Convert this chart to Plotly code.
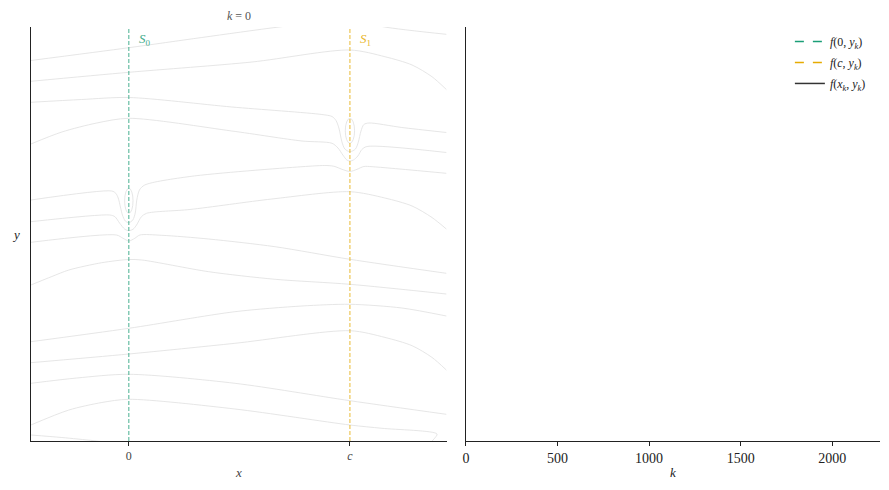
import plotly.graph_objects as go

# ---------------- data ----------------
C = 1.0  # position of the second saddle "c" (x in units of c)

# contour lines of f(x, y) at k = 0 (x in units of c, y in arbitrary units)
A_x = [-0.443, 0.0, 0.330, 0.679, 1.0, 1.149, 1.436]
A_y = [380.5, 393.3, 403.5, 414.0, 422.0, 414.3, 406.7]

B_x = [-0.443, 0.0, 0.557, 1.0, 1.158, 1.281, 1.371, 1.436]
B_y = [359.7, 368.7, 379.0, 391.0, 384.3, 376.0, 364.3, 351.5]

C_x = [-0.443, -0.213, 0.0, 0.466, 0.873, 0.919, 0.937, 0.950, 0.964, 0.977,
       1.0, 1.025, 1.038, 1.050, 1.063, 1.086, 1.235, 1.436]
C_y = [338.7, 341.5, 343.5, 334.0, 326.5, 324.5, 320.5, 313.0, 299.0, 292.0,
       289.3, 292.0, 299.0, 310.0, 316.5, 318.0, 313.5, 308.5]

D_x = [-0.443, -0.303, -0.145, 0.0, 0.466, 0.783, 0.919, 0.946, 0.968, 0.986,
       1.0, 1.016, 1.036, 1.054, 1.077, 1.436]
D_y = [297.0, 309.0, 318.0, 322.7, 310.0, 300.0, 297.7, 293.0, 286.0, 281.0,
       280.0, 281.0, 285.0, 291.5, 294.5, 288.5]

E_x = [-0.443, -0.077, -0.059, -0.048, -0.038, -0.029, -0.016, 0.0, 0.018,
       0.029, 0.036, 0.048, 0.072, 0.276, 0.783, 0.896, 0.932, 0.964, 1.0,
       1.032, 1.063, 1.100, 1.436]
E_y = [241.0, 250.0, 247.7, 243.0, 234.0, 226.0, 220.0, 218.3, 221.0,
       228.0, 241.0, 251.0, 256.0, 264.5, 274.3, 275.5, 274.5, 271.7, 269.5,
       271.7, 274.5, 274.3, 267.7]

F_x = [-0.443, -0.086, -0.063, -0.041, -0.018, 0.0, 0.019, 0.035, 0.057,
       0.080, 0.276, 0.647, 1.0, 1.158, 1.281, 1.371, 1.436]
F_y = [219.3, 226.0, 224.3, 217.7, 211.7, 210.3, 211.7, 216.0, 224.3,
       227.7, 231.5, 242.0, 249.3, 243.0, 235.0, 223.5, 212.0]

G_x = [-0.443, -0.056, -0.026, 0.0, 0.027, 0.050, 0.149, 0.361, 0.661, 1.0, 1.436]
G_y = [198.7, 206.0, 202.7, 200.0, 202.7, 206.0, 205.7, 202.0, 194.3, 181.7, 167.7]

H_x = [-0.443, -0.348, -0.271, -0.122, 0.0, 0.059, 0.361, 0.662, 1.0, 1.436]
H_y = [156.0, 164.5, 171.0, 178.3, 181.5, 181.0, 169.3, 161.7, 156.7, 147.0]

I_x = [-0.443, 0.0, 0.480, 0.783, 1.0, 1.235, 1.436]
I_y = [99.3, 112.7, 129.3, 135.0, 136.7, 133.0, 125.0]

J_x = [-0.443, 0.0, 0.480, 1.0, 1.158, 1.281, 1.371, 1.436]
J_y = [78.3, 87.0, 97.7, 110.3, 103.6, 95.3, 83.6, 71.0]

K_x = [-0.443, -0.235, 0.0, 0.480, 1.0, 1.436]
K_y = [57.7, 63.0, 66.7, 57.7, 40.3, 26.7]

L_x = [-0.443, -0.271, -0.122, 0.0, 0.480, 1.0, 1.145, 1.394, 1.380, 1.360]
L_y = [16.0, 31.0, 38.5, 41.7, 32.0, 16.0, 12.7, 7.0, 2.0, -2.5]

M_x = [-0.443, -0.303, -0.158, -0.032]
M_y = [6.0, 3.5, 0.3, -3.0]

CONTOURS_X = [A_x, B_x, C_x, D_x, E_x, F_x, G_x, H_x, I_x, J_x, K_x, L_x, M_x]
CONTOURS_Y = [A_y, B_y, C_y, D_y, E_y, F_y, G_y, H_y, I_y, J_y, K_y, L_y, M_y]

# small closed contours (wells) near the two saddles
WELL_X = [0.0, C]
WELL_HALF_W = [0.019, 0.021]
WELL_Y_LO = [227.7, 297.7]
WELL_Y_HI = [252.7, 322.7]

# separatrices
SEP_X = [0.0, C]
SEP_LABELS = ["<i>S</i><sub>0</sub>", "<i>S</i><sub>1</sub>"]
SEP_COLORS = ["#1b9e77", "#e6ab02"]

# left axis ranges / ticks
X_RANGE = [-0.443, 1.439]
Y_RANGE = [0.0, 414.0]
X_TICKVALS = [0.0, C]
X_TICKTEXT = ["0", "<i>c</i>"]

# right panel
K_RANGE = [0, 2261]
K_TICKS = [0, 500, 1000, 1500, 2000]
LEGEND_NAMES = ["<i>f</i>(0, <i>y<sub>k</sub></i>)",
                "<i>f</i>(<i>c</i>, <i>y<sub>k</sub></i>)",
                "<i>f</i>(<i>x<sub>k</sub></i>, <i>y<sub>k</sub></i>)"]
LEGEND_COLORS = ["#1b9e77", "#e6ab02", "#333333"]
LEGEND_DASH = ["dash", "dash", "solid"]

SERIF = "Liberation Serif, DejaVu Serif, serif"

fig = go.Figure()

for xs, ys in zip(CONTOURS_X, CONTOURS_Y):
    fig.add_trace(go.Scatter(x=xs, y=ys, mode="lines",
                             line=dict(color="#e0e0e0", width=0.8, shape="spline", smoothing=0.8),
                             showlegend=False, hoverinfo="skip", xaxis="x", yaxis="y"))

# wells as ellipses
for wx, hw, lo, hi in zip(WELL_X, WELL_HALF_W, WELL_Y_LO, WELL_Y_HI):
    fig.add_shape(type="circle", xref="x", yref="y", x0=wx - hw, x1=wx + hw, y0=lo, y1=hi,
                  line=dict(color="#e0e0e0", width=0.8))

# separatrix lines and labels
for sx, lab, col in zip(SEP_X, SEP_LABELS, SEP_COLORS):
    fig.add_shape(type="line", xref="x", yref="y domain", x0=sx, x1=sx, y0=0, y1=1,
                  line=dict(color=col, width=1, dash="4px,2px"), opacity=0.8)
    fig.add_annotation(x=sx, y=0.969, xref="x", yref="y domain", text=lab, showarrow=False,
                       xanchor="left", yanchor="middle", xshift=8,
                       font=dict(family=SERIF, size=13, color=col), opacity=0.85)

# legend entries (right panel, no data at k = 0)
for i, (name, col, dsh) in enumerate(zip(LEGEND_NAMES, LEGEND_COLORS, LEGEND_DASH)):
    fig.add_trace(go.Scatter(x=[None], y=[None], mode="lines", name=name,
                             legendgroup="g%d" % i,
                             line=dict(color=col, width=1.5, dash=dsh),
                             xaxis="x2", yaxis="y2"))

fig.update_layout(
    width=889, height=490,
    margin=dict(l=0, r=0, t=0, b=0),
    paper_bgcolor="white", plot_bgcolor="white",
    font=dict(family=SERIF, color="#222"),
    showlegend=True,
    legend=dict(x=0.888, y=0.945, xanchor="left", yanchor="top",
                bgcolor="rgba(255,255,255,0)", borderwidth=0,
                font=dict(family=SERIF, size=12, color="#222"),
                itemwidth=30, tracegroupgap=2),
    xaxis=dict(domain=[27 / 889, 445 / 889], range=X_RANGE, showgrid=False, zeroline=False,
               showline=True, linecolor="#222", linewidth=1, ticks="outside", ticklen=4,
               tickcolor="#222", tickvals=X_TICKVALS, ticktext=X_TICKTEXT,
               tickfont=dict(family=SERIF, size=12, color="#444"), anchor="y"),
    yaxis=dict(domain=[49 / 490, 463 / 490], range=Y_RANGE, showgrid=False, zeroline=False,
               showline=True, linecolor="#222", linewidth=1, showticklabels=False, ticks="",
               anchor="x"),
    xaxis2=dict(domain=[464 / 889, 880 / 889], range=K_RANGE, showgrid=False, zeroline=False,
                showline=True, linecolor="#222", linewidth=1, ticks="outside", ticklen=4,
                tickcolor="#222", tickvals=K_TICKS,
                tickfont=dict(family=SERIF, size=14, color="#222"), anchor="y2"),
    yaxis2=dict(domain=[49 / 490, 463 / 490], range=[0, 1], showgrid=False, zeroline=False,
                showline=True, linecolor="#222", linewidth=1, showticklabels=False, ticks="",
                anchor="x2"),
)

# axis labels and title
fig.add_annotation(text="<i>x</i>", x=0.5, y=0, xref="x domain", yref="y domain",
                   showarrow=False, yanchor="middle", yshift=-31,
                   font=dict(family=SERIF, size=13, color="#444"))
fig.add_annotation(text="<i>k</i>", x=0.5, y=0, xref="x2 domain", yref="y2 domain",
                   showarrow=False, yanchor="middle", yshift=-31,
                   font=dict(family=SERIF, size=13, color="#222"))
fig.add_annotation(text="<i>y</i>", x=0, y=0.5, xref="x domain", yref="y domain",
                   showarrow=False, xanchor="center", yanchor="middle", xshift=-15,
                   font=dict(family=SERIF, size=13, color="#222"))
fig.add_annotation(text="<i>k</i> = 0", x=0.5, y=1, xref="x domain", yref="y domain",
                   showarrow=False, yanchor="middle", yshift=11,
                   font=dict(family=SERIF, size=12, color="#555"))

fig.write_html("out.html", post_script="document.body.style.margin='0';",
               config={"displayModeBar": False})
